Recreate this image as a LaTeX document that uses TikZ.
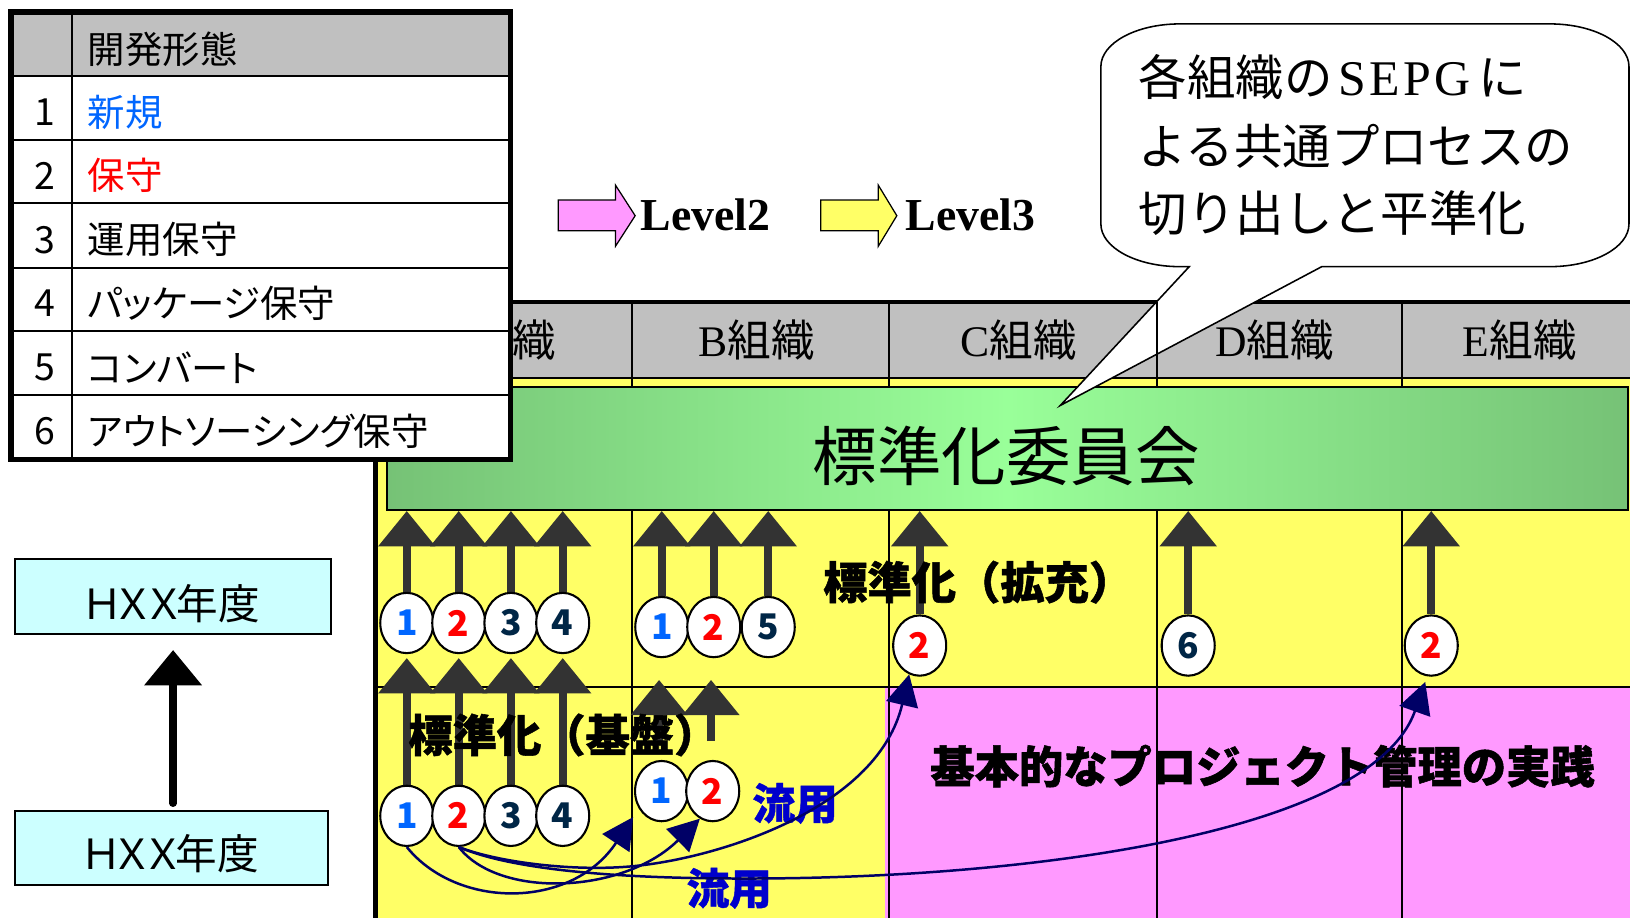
\documentclass[tikz,border=0pt]{standalone}
\usepackage{fontspec}
\setmainfont{Noto Sans CJK JP}
\newfontfamily\lat{Liberation Serif}
\usetikzlibrary{arrows.meta,shapes.geometric,calc}
\definecolor{ylw}{RGB}{255,255,102}
\definecolor{pnk}{RGB}{255,153,255}
\definecolor{hdrgray}{RGB}{192,192,192}
\definecolor{gdark}{RGB}{118,194,118}
\definecolor{glight}{RGB}{153,255,153}
\definecolor{cyanbox}{RGB}{204,255,255}
\definecolor{arrgray}{RGB}{51,51,51}
\definecolor{navyc}{RGB}{0,0,102}
\definecolor{nblue}{RGB}{0,102,255}
\definecolor{nred}{RGB}{255,0,0}
\definecolor{ndark}{RGB}{0,38,70}
\definecolor{ryublue}{RGB}{0,0,204}
\newcommand\fsz[1]{\fontsize{#1}{#1}\selectfont}
\pgfdeclarelayer{bg}
\pgfdeclarelayer{mid}
\pgfdeclarelayer{front}
\pgfsetlayers{bg,mid,main,front}
\begin{document}
\begin{tikzpicture}[x=0.5pt,y=-0.5pt,
  numnode/.style={ellipse, draw=black, line width=1pt, fill=white, minimum width=25.5pt, minimum height=29pt, inner sep=0pt, font=\fsz{17pt}\bfseries},
  darrow/.style={draw=arrgray, line width=4pt, -{Triangle[length=17pt,width=26.5pt]}},
  navarrow/.style={draw=navyc, line width=1.2pt, -{Triangle[length=15pt,width=15.5pt]}},
  blkarrow/.style={draw=black, line width=3.5pt, line cap=round, -{Triangle[length=17pt,width=27pt]}},
  tabtxt/.style={anchor=west, inner sep=0pt, font=\fsz{18pt}\addfontfeature{RawFeature=+palt}},
  tabnum/.style={inner sep=0pt, font=\fsz{18pt}},
  hdrtxt/.style={inner sep=0pt, font=\fsz{21pt}},
  boldtxt/.style={inner sep=0pt, font=\fsz{21.3pt}\bfseries\addfontfeature{FakeBold=1.2}},
  ryutxt/.style={inner sep=0pt, text=ryublue, font=\fsz{20.5pt}\bfseries\addfontfeature{FakeBold=1}},
  yearbox/.style={draw=black, line width=0.8pt, fill=cyanbox, inner sep=0pt},
  yeartxt/.style={inner sep=0pt, font=\fsz{20pt}},
  lvltxt/.style={anchor=west, inner sep=0pt, font=\lat\bfseries\fsz{22pt}},
  balltxt/.style={anchor=west, inner sep=0pt, font=\fsz{23.3pt}},
  legarrow/.style={draw=black, line width=0.6pt},
]
\useasboundingbox (0,0) rectangle (1568,883);

\begin{pgfonlayer}{bg}
\fill[white] (0,0) rectangle (1568,883);
\fill[ylw] (360,290.5) rectangle (1568,883);
\fill[pnk] (851,660.6) rectangle (1568,883);
\fill[hdrgray] (360,290.5) rectangle (1568,364);
\draw[line width=1pt] (360,364) -- (1568,364);
\draw[line width=2pt] (360,290.5) -- (1568,290.5);
\foreach \cx in {607.8,854.8,1113.4,1348.4} \draw[line width=1pt] (\cx,290.5) -- (\cx,883);
\draw[line width=1pt] (360,660.6) -- (1568,660.6);
\draw[line width=2.5pt] (361.5,290.5) -- (361.5,883);
\node[hdrtxt] (hA) at (478,327) {{\lat A}組織};
\node[hdrtxt] (hB) at (728,327) {{\lat B}組織};
\node[hdrtxt] (hC) at (980,327) {{\lat C}組織};
\node[hdrtxt] (hD) at (1226,327) {{\lat D}組織};
\node[hdrtxt] (hE) at (1462,327) {{\lat E}組織};
\node[draw=black, line width=1pt, left color=gdark, right color=gdark, middle color=glight,
      minimum width=597pt, minimum height=59pt, inner sep=0pt] (green) at (969,431.5) {};
\node[inner sep=0pt, font=\fsz{31pt}] (iinkai) at (968,439) {標準化委員会};
\end{pgfonlayer}

% circles
\node[numnode, text=nblue] (ua1) at (391.3,599.3) {1};
\node[numnode, text=nred]  (ua2) at (441.3,599.3) {2};
\node[numnode, text=ndark] (ua3) at (491.5,599.3) {3};
\node[numnode, text=ndark] (ua4) at (541.3,599.3) {4};
\node[numnode, text=nblue] (ub1) at (636.6,603.2) {1};
\node[numnode, text=nred]  (ub2) at (686.6,603.2) {2};
\node[numnode, text=ndark] (ub3) at (739,603.2) {5};
\node[numnode, text=nred]  (uc)  at (884.7,621) {2};
\node[numnode, text=ndark] (ud)  at (1143,621) {6};
\node[numnode, text=nred]  (ue)  at (1376.8,621) {2};
\node[numnode, text=nblue] (la1) at (391.3,784.8) {1};
\node[numnode, text=nred]  (la2) at (441.3,784.8) {2};
\node[numnode, text=ndark] (la3) at (491.5,784.8) {3};
\node[numnode, text=ndark] (la4) at (541.3,784.8) {4};
\node[numnode, text=nblue] (lb1) at (636.4,761) {1};
\node[numnode, text=nred]  (lb2) at (685.6,761) {2};

\coordinate (bs1) at (634,713);
\coordinate (bt1) at (634,654);
\coordinate (bs2) at (684,713);
\coordinate (bt2) at (684,654);

\begin{pgfonlayer}{mid}
\foreach \n in {ua1,ua2,ua3,ua4,ub1,ub2,ub3,uc,ud,ue}
  \draw[darrow] (\n.north) -- (\n.north |- green.south);
\foreach \n/\m in {la1/ua1,la2/ua2,la3/ua3,la4/ua4}
  \draw[darrow] (\n.north) -- ($(\m.south)+(0,3.7)$);
\draw[darrow] (bs1) -- (bt1);
\draw[darrow] (bs2) -- (bt2);
\end{pgfonlayer}

% texts in grid
\node[boldtxt] (kakuju) at (941,560) {標準化（拡充）};
\node[boldtxt] (kiban) at (542,707) {標準化（基盤）};
\node[boldtxt] (jissen) at (1214.5,737) {基本的なプロジェクト管理の実践};
\node[ryutxt] (ryu1) at (764.8,772.8) {流用};
\node[ryutxt] (ryu2) at (701.5,854.5) {流用};

\begin{pgfonlayer}{front}
\coordinate (tB1) at (609,786);
\coordinate (tE) at (1371,656);
\draw[navarrow] (la1.south) .. controls (440,875) and (550,875) .. (tB1);
\draw[navarrow] (la2.south) .. controls (480,865) and (600,860) .. (lb2.245);
\draw[navarrow] (la2.south) .. controls (480,830) and (560,840) .. (620,832)
   .. controls (700,822) and (845,775) .. (uc.250);
\draw[navarrow] (la2.south) .. controls (500,840) and (620,846) .. (740,845)
   .. controls (1000,843) and (1320,800) .. (tE);

% year boxes
\node[yearbox, minimum width=152pt, minimum height=36pt] (yr2) at (166.5,574) {};
\node[yeartxt] (yr2t) at (164,580.4) {Ｈ\kern-5pt Ｘ\kern-5pt Ｘ\kern-4pt 年度};
\node[yearbox, minimum width=150.5pt, minimum height=35.75pt] (yr1) at (165,815.8) {};
\node[yeartxt] (yr1t) at (163,821) {Ｈ\kern-5pt Ｘ\kern-5pt Ｘ\kern-4pt 年度};
\draw[blkarrow] ($(yr2.south |- yr1.north)+(0,-6.5)$) -- ($(yr2.south)+(0,14.5)$);

% level legend
\draw[legarrow, fill=pnk] (537,192.4) -- (592,192.4) -- (592,178) -- (611,207.5) -- (592,237) -- (592,222) -- (537,222) -- cycle;
\node[lvltxt] (lv2) at (616,207) {Level2};
\draw[legarrow, fill=ylw] (789.5,192.4) -- (844.8,192.4) -- (844.8,178) -- (862.7,207.5) -- (844.8,237) -- (844.8,222) -- (789.5,222) -- cycle;
\node[lvltxt] (lv3) at (871,207) {Level3};

% legend table
\fill[white] (10.6,11.5) rectangle (491,442);
\fill[hdrgray] (10.6,11.5) rectangle (491,73);
\foreach \ry in {73,134.7,195.3,257.8,318.4,380} \draw[line width=1pt] (10.6,\ry) -- (491,\ry);
\draw[line width=1.2pt] (69.3,11.5) -- (69.3,442);
\draw[line width=2.5pt] (10.6,11.5) rectangle (491,442);
\node[tabtxt] (th) at (84,47) {開発形態};
\node[tabnum] (n1) at (43,108) {1};
\node[tabnum] (n2) at (43,169) {2};
\node[tabnum] (n3) at (43,230.6) {3};
\node[tabnum] (n4) at (43,292.1) {4};
\node[tabnum] (n5) at (43,353.5) {5};
\node[tabnum] (n6) at (43,415) {6};
\node[tabtxt, text=nblue] (r1) at (84,108) {新規};
\node[tabtxt, text=nred] (r2) at (84,169) {保守};
\node[tabtxt] (r3) at (84,230.6) {運用保守};
\node[tabtxt] (r4) at (84,292.1) {パッケージ保守};
\node[tabtxt] (r5) at (84,353.5) {コンバート};
\node[tabtxt] (r6) at (84,415) {アウトソーシング保守};

% callout
\draw[fill=white, line width=0.75pt]
 (1135,23) -- (1491,23) .. controls (1533,23) and (1567,41.4) .. (1567,64)
 -- (1567,215.5) .. controls (1567,238.1) and (1533,256.5) .. (1491,256.5)
 -- (1271.5,256.5) -- (1020,390) -- (1144,256.5)
 -- (1135,256.5) .. controls (1093,256.5) and (1059,238.1) .. (1059,215.5)
 -- (1059,64) .. controls (1059,41.4) and (1093,23) .. (1135,23) -- cycle;
\draw[line width=1pt] (1113.4,290.5) -- (1113.4,372.5);
\node[balltxt] (bl1) at (1095,74.5) {各組織の\kern3pt{\lat\fsz{24pt}S\kern1.5pt E\kern1.5pt P\kern1.5pt G}\kern4pt に};
\node[balltxt] (bl2) at (1095,141) {よる共通プロセスの};
\node[balltxt] (bl3) at (1095,204.5) {切り出しと平準化};
\end{pgfonlayer}
\end{tikzpicture}
\end{document}
